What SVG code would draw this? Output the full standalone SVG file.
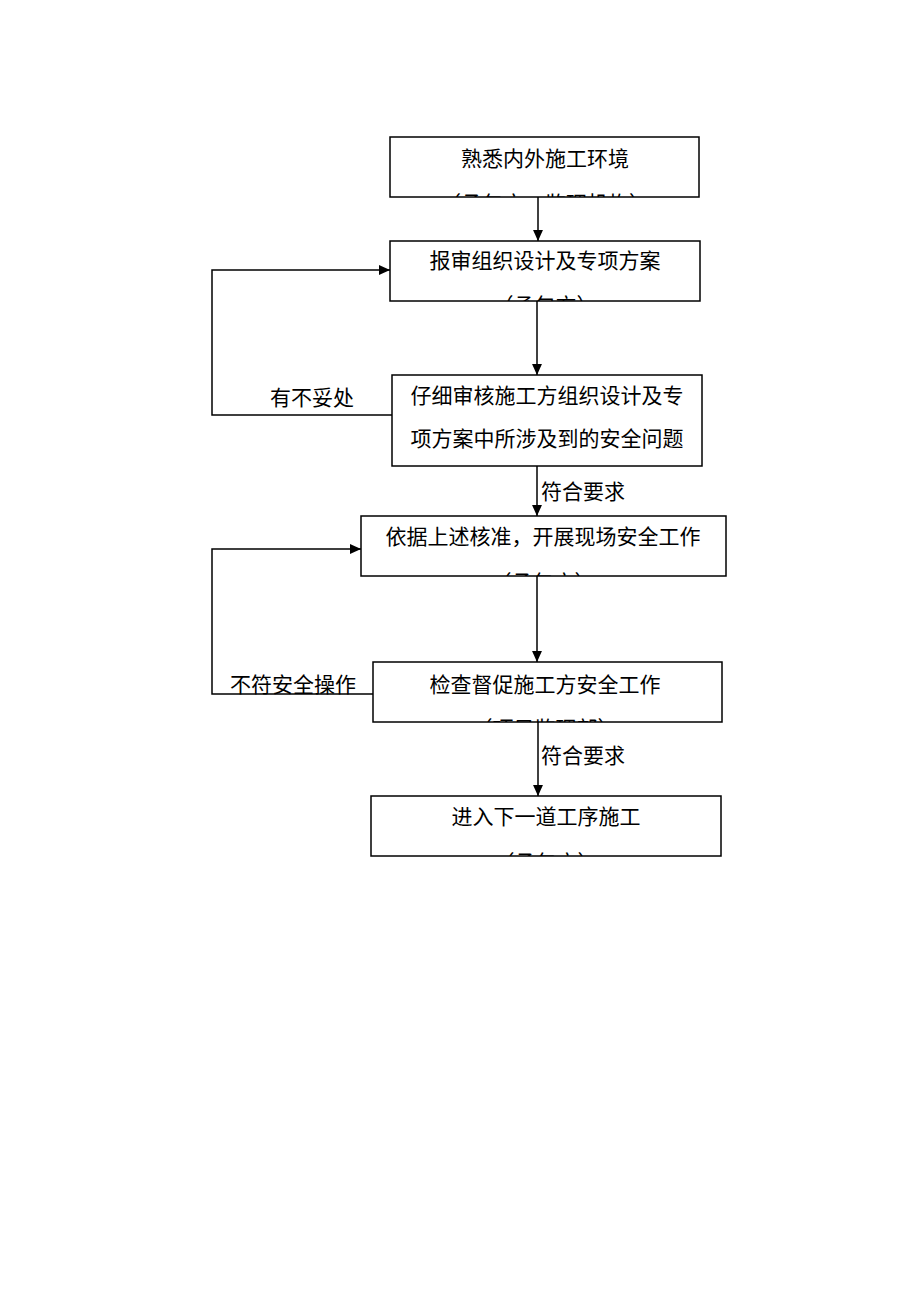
<svg xmlns="http://www.w3.org/2000/svg" width="920" height="1302" viewBox="0 0 920 1302">
<style>
.box{fill:#fff;stroke:#000;stroke-width:1.5}
.t{font-family:"Noto Sans CJK SC","Noto Sans",sans-serif;font-size:21px;fill:#000}
.c{text-anchor:middle}
.ln{fill:none;stroke:#000;stroke-width:1.5}
</style>
<defs>
<marker id="ah" viewBox="0 0 10 10" refX="10" refY="5" markerWidth="11" markerHeight="11" markerUnits="userSpaceOnUse" orient="auto">
<path d="M0,0.5 L10,5 L0,9.5 z" fill="#000"/>
</marker>
<clipPath id="c1"><rect x="390" y="137" width="309" height="60"/></clipPath>
<clipPath id="c2"><rect x="390" y="241" width="310" height="60"/></clipPath>
<clipPath id="c4"><rect x="361" y="516" width="365" height="60"/></clipPath>
<clipPath id="c5"><rect x="373" y="662" width="349" height="60"/></clipPath>
<clipPath id="c6"><rect x="371" y="796" width="350" height="60"/></clipPath>
</defs>
<rect width="920" height="1302" fill="#fff"/>
<g id="connectors">
<line class="ln" x1="538" y1="197" x2="538" y2="241" marker-end="url(#ah)"/>
<line class="ln" x1="537" y1="301" x2="537" y2="375" marker-end="url(#ah)"/>
<line class="ln" x1="537" y1="466" x2="537" y2="516" marker-end="url(#ah)"/>
<line class="ln" x1="537" y1="576" x2="537" y2="662" marker-end="url(#ah)"/>
<line class="ln" x1="538" y1="722" x2="538" y2="796" marker-end="url(#ah)"/>
<polyline class="ln" points="392,415 212,415 212,270 390,270" marker-end="url(#ah)"/>
<polyline class="ln" points="373,694 212,694 212,549 361,549" marker-end="url(#ah)"/>
<text class="t" x="541" y="499">符合要求</text>
<text class="t" x="541" y="763">符合要求</text>
<text class="t" x="270" y="405">有不妥处</text>
<text class="t" x="230" y="692">不符安全操作</text>
</g>
<g id="n1">
<rect class="box" x="390" y="137" width="309" height="60"/>
<text class="t c" x="545" y="166">熟悉内外施工环境</text>
<text class="t c" x="545" y="211" clip-path="url(#c1)">（承包方、监理机构）</text>
</g>
<g id="n2">
<rect class="box" x="390" y="241" width="310" height="60"/>
<text class="t c" x="545" y="268">报审组织设计及专项方案</text>
<text class="t c" x="545" y="313" clip-path="url(#c2)">（承包方）</text>
</g>
<g id="n3">
<rect class="box" x="392" y="375" width="310" height="91"/>
<text class="t c" x="547" y="403">仔细审核施工方组织设计及专</text>
<text class="t c" x="547" y="446">项方案中所涉及到的安全问题</text>
</g>
<g id="n4">
<rect class="box" x="361" y="516" width="365" height="60"/>
<text class="t c" x="543" y="544">依据上述核准，开展现场安全工作</text>
<text class="t c" x="543" y="590" clip-path="url(#c4)">（承包方）</text>
</g>
<g id="n5">
<rect class="box" x="373" y="662" width="349" height="60"/>
<text class="t c" x="545" y="692">检查督促施工方安全工作</text>
<text class="t c" x="545" y="736" clip-path="url(#c5)">（项目监理部）</text>
</g>
<g id="n6">
<rect class="box" x="371" y="796" width="350" height="60"/>
<text class="t c" x="546" y="824">进入下一道工序施工</text>
<text class="t c" x="546" y="870" clip-path="url(#c6)">（承包方）</text>
</g>
</svg>
